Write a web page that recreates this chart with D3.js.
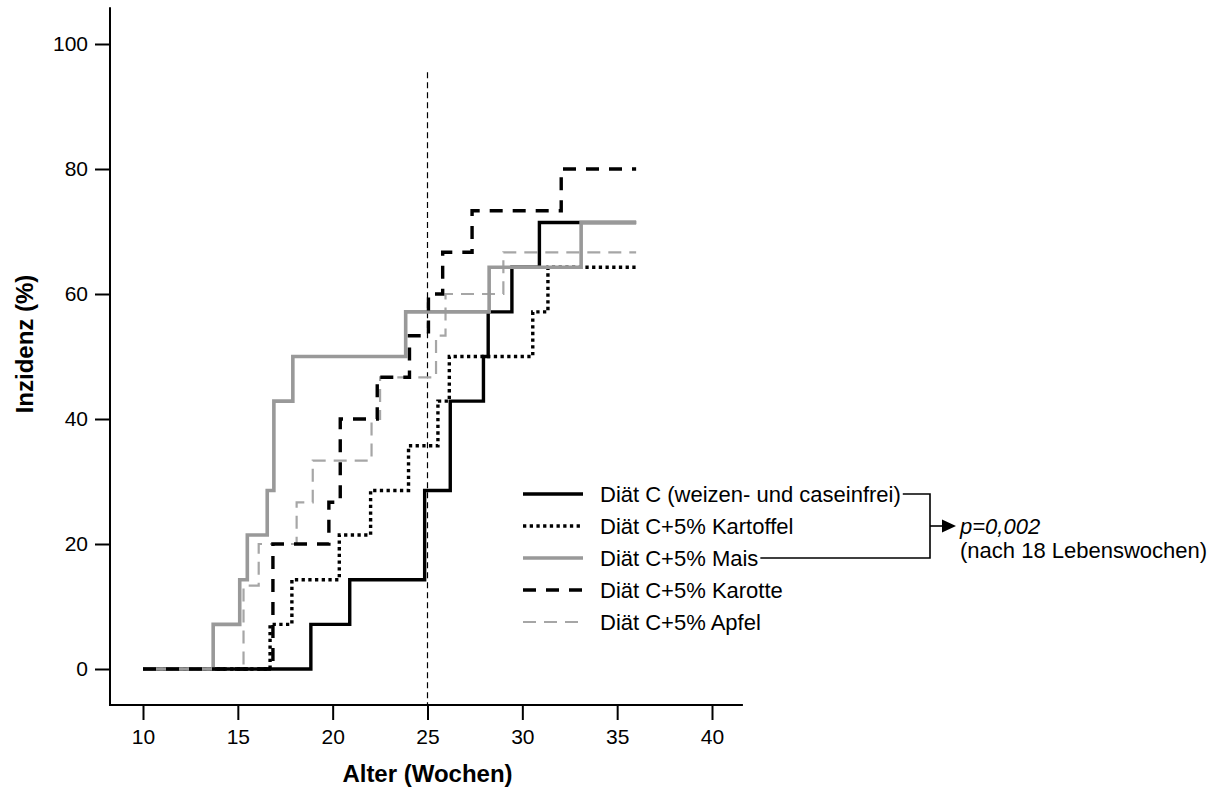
<!DOCTYPE html>
<html lang="de">
<head>
<meta charset="utf-8">
<title>Inzidenz nach Alter</title>
<script src="https://cdn.jsdelivr.net/npm/d3@7"></script>
<style>
  body { margin: 0; background: #fff; }
  text { font-family: "Liberation Sans", Arial, sans-serif; fill: #000; }
</style>
</head>
<body>
<script>
// series labels (legend order)
var names = ["Diät C (weizen- und caseinfrei)", "Diät C+5% Kartoffel", "Diät C+5% Mais", "Diät C+5% Karotte", "Diät C+5% Apfel"];

// step points: age in weeks / incidence in %
var weeksC     = [10, 18.85, 20.9, 24.85, 26.2, 27.95, 28.2, 29.45, 30.9, 36];
var incC       = [0, 7.14, 14.29, 28.57, 42.86, 50, 57.14, 64.29, 71.43, 71.43];
var weeksKart  = [10, 16.7, 17.85, 20.35, 22.0, 24.0, 25.55, 26.15, 30.55, 31.35, 36];
var incKart    = [0, 7.14, 14.29, 21.43, 28.57, 35.71, 42.86, 50, 57.14, 64.29, 64.29];
var weeksMais  = [10, 13.7, 15.1, 15.5, 16.55, 16.9, 17.9, 23.85, 28.25, 33.1, 36];
var incMais    = [0, 7.14, 14.29, 21.43, 28.57, 42.86, 50, 57.14, 64.29, 71.43, 71.43];
var weeksKarot = [10, 16.85, 19.8, 20.4, 22.35, 24.05, 25.05, 25.8, 27.35, 32.05, 36];
var incKarot   = [0, 20, 26.67, 40, 46.67, 53.33, 60, 66.67, 73.33, 80, 80];
var weeksApfel = [10, 15.3, 16.1, 18.1, 18.95, 22.05, 22.5, 25.45, 25.95, 29.0, 36];
var incApfel   = [0, 13.33, 20, 26.67, 33.33, 40, 46.67, 53.33, 60, 66.67, 66.67];

var xTicks = [10, 15, 20, 25, 30, 35, 40];
var yTicks = [0, 20, 40, 60, 80, 100];

var w = 1227, h = 787;

var styles = [
  {color: "#000", width: 3.4, dash: null},
  {color: "#000", width: 3.4, dash: "3.3,3.4"},
  {color: "#999", width: 3.6, dash: null},
  {color: "#000", width: 3.4, dash: "13,10"},
  {color: "#a6a6a6", width: 2.2, dash: "13,8"}
];

var series = [
  {name: names[0], weeks: weeksC, inc: incC, style: styles[0]},
  {name: names[1], weeks: weeksKart, inc: incKart, style: styles[1]},
  {name: names[2], weeks: weeksMais, inc: incMais, style: styles[2]},
  {name: names[3], weeks: weeksKarot, inc: incKarot, style: styles[3]},
  {name: names[4], weeks: weeksApfel, inc: incApfel, style: styles[4]}
];

var x = d3.scaleLinear().domain([10, 40]).range([143, 712]);
var y = d3.scaleLinear().domain([0, 100]).range([669, 44]);

var svg = d3.select("body").append("svg")
  .attr("width", w)
  .attr("height", h);

// axes
var xAxisY = y(-5.76);
var yAxisX = x(8.26);

svg.append("line")
  .attr("x1", yAxisX).attr("x2", yAxisX)
  .attr("y1", y(105.9)).attr("y2", xAxisY + 1)
  .attr("stroke", "#000").attr("stroke-width", 2);
svg.append("line")
  .attr("x1", yAxisX - 1).attr("x2", x(41.63))
  .attr("y1", xAxisY).attr("y2", xAxisY)
  .attr("stroke", "#000").attr("stroke-width", 2);

var yAxis = svg.append("g")
  .attr("transform", "translate(" + yAxisX + ",0)")
  .call(d3.axisLeft(y).tickValues(yTicks).tickSize(15).tickPadding(7).tickFormat(d3.format("d")));
yAxis.select(".domain").remove();
yAxis.selectAll("line").attr("stroke-width", 2);
yAxis.selectAll("text").attr("font-size", 21).style("font-family", '"Liberation Sans", Arial, sans-serif');

var xAxis = svg.append("g")
  .attr("transform", "translate(0," + xAxisY + ")")
  .call(d3.axisBottom(x).tickValues(xTicks).tickSize(15).tickPadding(9).tickFormat(d3.format("d")));
xAxis.select(".domain").remove();
xAxis.selectAll("line").attr("stroke-width", 2);
xAxis.selectAll("text").attr("font-size", 21).style("font-family", '"Liberation Sans", Arial, sans-serif');

// axis titles
svg.append("text")
  .attr("x", x(25)).attr("y", 782)
  .attr("text-anchor", "middle")
  .attr("font-size", 24).attr("font-weight", "bold")
  .text("Alter (Wochen)");
svg.append("text")
  .attr("transform", "translate(33," + y(52) + ") rotate(-90)")
  .attr("text-anchor", "middle")
  .attr("font-size", 24).attr("font-weight", "bold")
  .text("Inzidenz (%)");

// reference line at 25 weeks
svg.append("line")
  .attr("x1", x(25)).attr("x2", x(25))
  .attr("y1", y(95.5)).attr("y2", xAxisY)
  .attr("stroke", "#000").attr("stroke-width", 1.2)
  .attr("stroke-dasharray", "6,4");

// step curves
var line = d3.line()
  .x(function(d) { return x(d[0]); })
  .y(function(d) { return y(d[1]); })
  .curve(d3.curveStepAfter);

var drawOrder = [4, 1, 0, 2, 3];
drawOrder.forEach(function(i) {
  var s = series[i];
  var pts = s.weeks.map(function(t, j) { return [t, s.inc[j]]; });
  svg.append("path")
    .attr("d", line(pts))
    .attr("fill", "none")
    .attr("stroke", s.style.color)
    .attr("stroke-width", s.style.width)
    .attr("stroke-dasharray", s.style.dash)
    .attr("stroke-linejoin", "miter");
});

// legend
var legX = 523, legY = 494, legGap = 32;
var legend = svg.append("g");
var labels = [];
series.forEach(function(s, i) {
  var yy = legY + i * legGap;
  legend.append("line")
    .attr("x1", legX).attr("x2", legX + 60)
    .attr("y1", yy).attr("y2", yy)
    .attr("stroke", s.style.color)
    .attr("stroke-width", s.style.width)
    .attr("stroke-dasharray", s.style.dash);
  var t = legend.append("text")
    .attr("x", legX + 77).attr("y", yy + 8)
    .attr("font-size", 22)
    .text(s.name);
  labels.push(t);
});

// bracket joining Diät C and Mais
var bx = 930;
var endC = legX + 77 + labels[0].node().getComputedTextLength() + 2;
var endMais = legX + 77 + labels[2].node().getComputedTextLength() + 2;
var yC = legY, yMais = legY + 2 * legGap;
svg.append("path")
  .attr("d", "M" + endC + "," + yC + "H" + bx + "V" + yMais + "H" + endMais)
  .attr("fill", "none").attr("stroke", "#000").attr("stroke-width", 1.6);

var ay = (yC + yMais) / 2;
svg.append("line")
  .attr("x1", bx).attr("x2", bx + 13)
  .attr("y1", ay).attr("y2", ay)
  .attr("stroke", "#000").attr("stroke-width", 1.6);
svg.append("path")
  .attr("d", "M" + (bx + 12) + "," + (ay - 6.5) + "L" + (bx + 26) + "," + ay + "L" + (bx + 12) + "," + (ay + 6.5) + "Z")
  .attr("fill", "#000");

svg.append("text")
  .attr("x", 960).attr("y", ay + 8)
  .attr("font-size", 22).attr("font-style", "italic")
  .text("p=0,002");
svg.append("text")
  .attr("x", 960).attr("y", ay + 32)
  .attr("font-size", 22)
  .text("(nach 18 Lebenswochen)");
</script>
</body>
</html>
